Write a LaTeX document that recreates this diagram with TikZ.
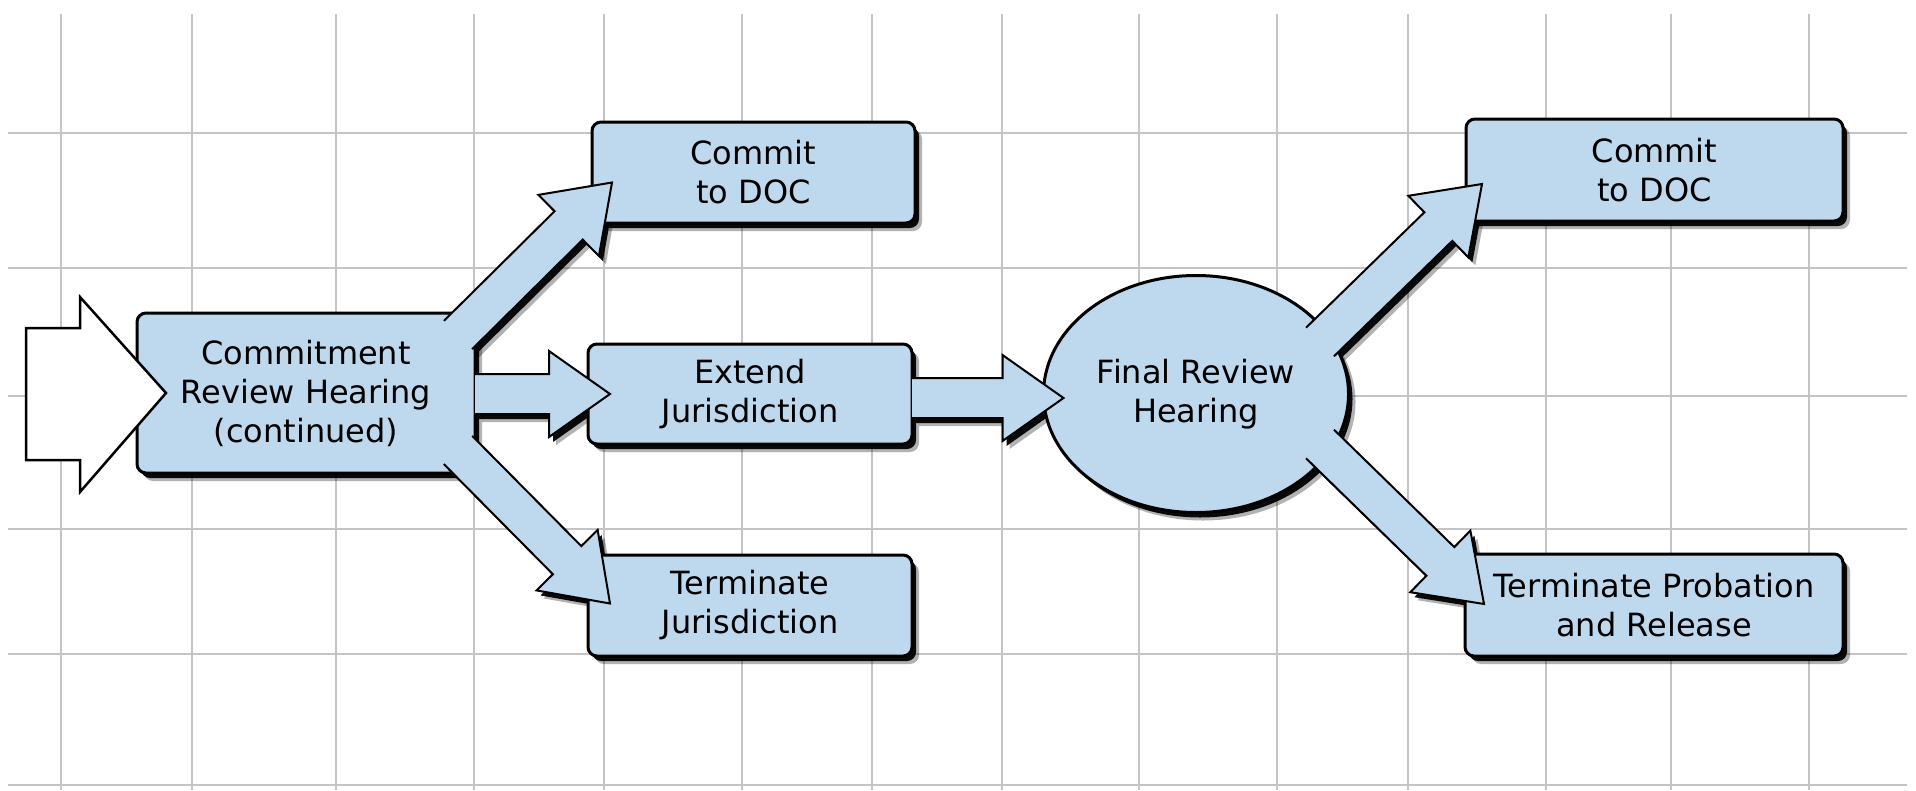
\documentclass[tikz,border=0pt]{standalone}
\usepackage{fontspec}
\setmainfont{DejaVu Sans}
\usetikzlibrary{calc, shapes.geometric, shadows, backgrounds}
\definecolor{paleblue}{RGB}{190,216,237}
\definecolor{gridgray}{RGB}{196,196,196}

\tikzset{
  gridline/.style={gridgray, line width=2.5pt},
  stage/.style={draw, line width=3pt, rounded corners=9pt, fill=paleblue, inner sep=0pt, outer sep=0pt,
    align=center, font=\fontsize{32}{39}\selectfont,
    drop shadow={shadow xshift=7pt, shadow yshift=-8pt, opacity=.3, fill=black},
    drop shadow={shadow xshift=4pt, shadow yshift=-5pt, opacity=.95, fill=black}},
  hearing/.style={stage, ellipse, rounded corners=0pt},
  entry/.style={draw, fill=white, line width=2.5pt, line join=miter},
  fatfill/.style={fill=paleblue},
  fatline/.style={draw, line width=2pt, line join=miter},
  fatshadow/.style={fill=black, opacity=.95, transform canvas={xshift=4pt, yshift=-5pt}},
  fatblur/.style={fill=black, opacity=.3, transform canvas={xshift=7pt, yshift=-8pt}}
}

\newcommand{\setfat}[2]{\coordinate (fs) at (#1); \coordinate (ft) at (#2); \coordinate (fh) at ($(ft)!61pt!(fs)$);}
\newcommand{\fatpath}{($(fs)!20pt!90:(ft)$) -- ($(fh)!20pt!90:(ft)$) -- ($(fh)!43pt!90:(ft)$) -- (ft)
  -- ($(fh)!43pt!-90:(ft)$) -- ($(fh)!20pt!-90:(ft)$) -- ($(fs)!20pt!-90:(ft)$)}

\begin{document}
\begin{tikzpicture}[x=1pt, y=-1pt]
\useasboundingbox (0,0) rectangle (1916,790);
\begin{scope}[on background layer]
\foreach \x in {61,192,336,474,604,742,872,1002,1139,1277,1408,1546,1671,1809}
{
    \draw[gridline] (\x,14) -- (\x,790);
}
\foreach \y in {133,268,396,529,654,785}
{
    \draw[gridline] (8,\y) -- (1907,\y);
}
\end{scope}

\node[stage, minimum width=338pt, minimum height=160pt] (crh) at (306,393) {Commitment\\Review Hearing\\(continued)};
\node[stage, minimum width=323pt, minimum height=101pt] (commitA) at (753.5,172.5) {Commit\\to DOC};
\node[stage, minimum width=324pt, minimum height=100pt] (extend) at (750,394) {Extend\\Jurisdiction};
\node[stage, minimum width=324pt, minimum height=101pt] (termA) at (750,605.5) {Terminate\\Jurisdiction};
\node[hearing, minimum width=305pt, minimum height=237pt] (final) at (1196,394) {Final Review\\Hearing};
\node[stage, minimum width=377pt, minimum height=102pt] (commitB) at (1654.5,170) {Commit\\to DOC};
\node[stage, minimum width=378pt, minimum height=102pt] (termB) at (1654,605) {Terminate Probation\\and Release};

\draw[entry] (26,328) -- (80,328) -- (80,297) -- (166,393) -- (80,492) -- (80,460) -- (26,460) -- cycle;

\coordinate (a1s) at ($(crh.north east)+(-17,22)$);
\coordinate (a1t) at ($(commitA.west)+(20,10)$);
\coordinate (a2s) at ($(crh.east)+(0,1)$);
\coordinate (a2t) at ($(extend.west)+(22,0)$);
\coordinate (a3s) at ($(crh.south east)+(-17,-23)$);
\coordinate (a3t) at ($(termA.west)+(22,-2)$);
\coordinate (a4s) at ($(extend.east)+(0,4)$);
\coordinate (a4t) at ($(final.west)+(20,4)$);
\coordinate (a5s) at ($(final.center)+(124,-52)$);
\coordinate (a5t) at ($(commitB.west)+(16,14)$);
\coordinate (a6s) at ($(final.center)+(124,50)$);
\coordinate (a6t) at ($(termB.west)+(19,-1)$);

\begin{scope}[on background layer]
\foreach \s/\t in {a1s/a1t, a2s/a2t, a3s/a3t, a4s/a4t, a5s/a5t, a6s/a6t}
{
    \setfat{\s}{\t}
    \fill[fatblur] \fatpath -- cycle;
    \fill[fatshadow] \fatpath -- cycle;
}
\end{scope}
\foreach \s/\t in {a1s/a1t, a2s/a2t, a3s/a3t, a4s/a4t, a5s/a5t, a6s/a6t}
{
    \setfat{\s}{\t}
    \fill[fatfill] \fatpath -- cycle;
    \draw[fatline] \fatpath;
}
\end{tikzpicture}
\end{document}
